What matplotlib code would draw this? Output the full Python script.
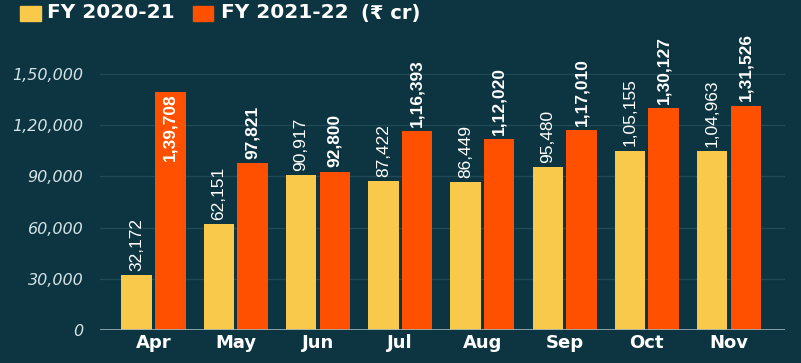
import matplotlib
matplotlib.use("Agg")
import matplotlib.pyplot as plt
import numpy as np

months = ["Apr", "May", "Jun", "Jul", "Aug", "Sep", "Oct", "Nov"]
fy21 = [32172, 62151, 90917, 87422, 86449, 95480, 105155, 104963]
fy22 = [139708, 97821, 92800, 116393, 112020, 117010, 130127, 131526]
fy21_labels = ["32,172", "62,151", "90,917", "87,422", "86,449", "95,480", "1,05,155", "1,04,963"]
fy22_labels = ["1,39,708", "97,821", "92,800", "1,16,393", "1,12,020", "1,17,010", "1,30,127", "1,31,526"]
yticks = [0, 30000, 60000, 90000, 120000, 150000]
ytick_labels = ["0", "30,000", "60,000", "90,000", "1,20,000", "1,50,000"]

BG = "#0c3441"
YEL = "#f8c94a"
ORA = "#ff5000"

fig = plt.figure(figsize=(8.01, 3.63), dpi=100, facecolor=BG)
ax = fig.add_axes([100/801, 1-330/363, 685/801, 300/363])
ax.set_facecolor(BG)

x = np.arange(len(months))
w = 0.37
gap = 0.02
ax.bar(x - w/2 - gap, fy21, width=w, color=YEL, zorder=3)
ax.bar(x + w/2 + gap, fy22, width=w, color=ORA, zorder=3)

ax.set_xlim(-0.65, 7.68)
ax.set_ylim(0, 175800)

for i in range(len(months)):
    ax.text(x[i] - w/2 - gap, fy21[i] + 2500, fy21_labels[i], rotation=90, ha="center", va="bottom",
            color="white", fontsize=12.5, family="Liberation Sans", zorder=4)
    if i == 0:
        ax.text(x[i] + w/2 + gap, fy22[i] - 1200, fy22_labels[i], rotation=90, ha="center", va="top",
                color="white", fontsize=12.5, fontweight="bold", family="Liberation Sans", zorder=4)
    else:
        ax.text(x[i] + w/2 + gap, fy22[i] + 2500, fy22_labels[i], rotation=90, ha="center", va="bottom",
                color="white", fontsize=12.5, fontweight="bold", family="Liberation Sans", zorder=4)

ax.set_yticks(yticks)
ax.set_yticklabels(ytick_labels, fontsize=11.5, fontstyle="italic", color="#d3e3e6")
ax.set_xticks(x)
ax.set_xticklabels(months, fontsize=13, fontweight="bold", color="white")
ax.tick_params(axis="both", length=0)
ax.tick_params(axis="y", pad=12)
ax.tick_params(axis="x", pad=3)

for t in yticks[1:]:
    ax.axhline(t, color="#204a56", lw=1, zorder=1)
ax.axhline(0, color="#9fb3b8", lw=1.2, zorder=5)
for s in ax.spines.values():
    s.set_visible(False)

# legend
fig.patches.append(matplotlib.patches.Rectangle((20/801, 1-21/363), 21/801, 15/363, transform=fig.transFigure,
                                                 color=YEL, figure=fig))
fig.text(47/801, 1-13/363, "FY 2020-21", color="white", fontsize=14.5, fontweight="bold", va="center", ha="left")
fig.patches.append(matplotlib.patches.Rectangle((193/801, 1-21/363), 20/801, 15/363, transform=fig.transFigure,
                                                 color=ORA, figure=fig))
fig.text(221/801, 1-13/363, "FY 2021-22", color="white", fontsize=14.5, fontweight="bold", va="center", ha="left")
fig.text(361/801, 1-13/363, "(₹ cr)", color="white", fontsize=14, fontweight="bold", va="center", ha="left")

fig.savefig("out.png", dpi=100, facecolor=BG)
